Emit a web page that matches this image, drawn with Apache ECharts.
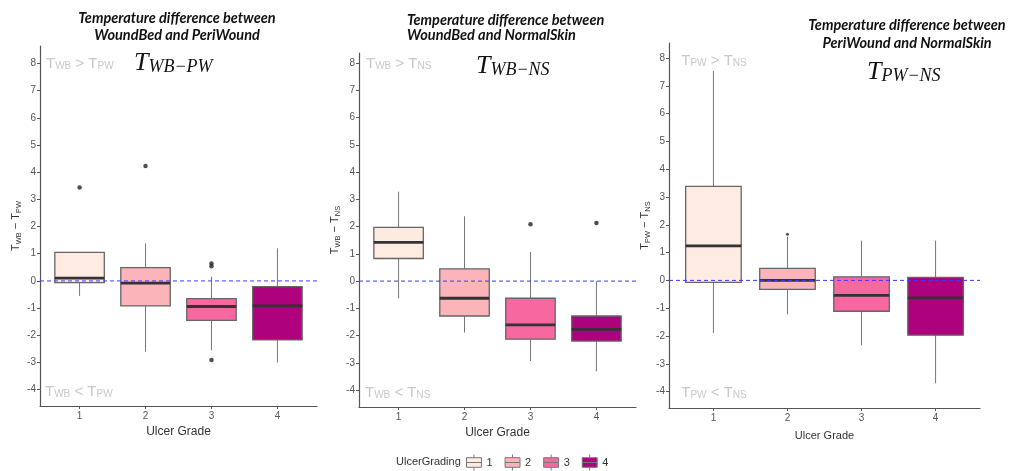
<!DOCTYPE html>
<html>
<head>
<meta charset="utf-8">
<script src="https://cdn.jsdelivr.net/npm/echarts@6/dist/echarts.min.js"></script>
<style>
  html, body { margin: 0; padding: 0; background: #fff; }
  #chart { width: 1015px; height: 471px; }
</style>
</head>
<body>
<div id="chart"></div>
<script>
// ulcer grades and fill colours (RdPu)
const grades = ['1', '2', '3', '4']
const gradeColors = ['#FEEBE2', '#FBB4B9', '#F768A1', '#AE017E']
const yTicks = [-4, -3, -2, -1, 0, 1, 2, 3, 4, 5, 6, 7, 8]
const xRange = [0.4, 4.6]
const zeroLevel = 0

// WoundBed - PeriWound
const wbPwLow = [-0.55, -2.60, -2.55, -3.00]
const wbPwQ1 = [-0.06, -0.92, -1.45, -2.17]
const wbPwMed = [0.10, -0.08, -0.94, -0.92]
const wbPwQ3 = [1.05, 0.49, -0.65, -0.21]
const wbPwHigh = [1.05, 1.38, 0.16, 1.20]
const wbPwOut = [[1, 3.44], [2, 4.23], [3, 0.64], [3, 0.54], [3, -2.91]]

// WoundBed - NormalSkin
const wbNsLow = [-0.63, -1.89, -2.93, -3.31]
const wbNsQ1 = [0.83, -1.28, -2.13, -2.20]
const wbNsMed = [1.42, -0.63, -1.61, -1.77]
const wbNsQ3 = [1.97, 0.45, -0.63, -1.28]
const wbNsHigh = [3.28, 2.38, 1.07, 0.00]
const wbNsOut = [[3, 2.09], [4, 2.13]]

// PeriWound - NormalSkin
const pwNsLow = [-1.89, -1.22, -2.34, -3.70]
const pwNsQ1 = [-0.07, -0.32, -1.11, -1.97]
const pwNsMed = [1.24, 0.00, -0.54, -0.63]
const pwNsQ3 = [3.38, 0.43, 0.13, 0.11]
const pwNsHigh = [7.53, 1.57, 1.43, 1.43]
const pwNsOut = [[2, 1.66]]

const panels = [
  { low: wbPwLow, q1: wbPwQ1, med: wbPwMed, q3: wbPwQ3, high: wbPwHigh, out: wbPwOut, a: 'WB', b: 'PW' },
  { low: wbNsLow, q1: wbNsQ1, med: wbNsMed, q3: wbNsQ3, high: wbNsHigh, out: wbNsOut, a: 'WB', b: 'NS' },
  { low: pwNsLow, q1: pwNsQ1, med: pwNsMed, q3: pwNsQ3, high: pwNsHigh, out: pwNsOut, a: 'PW', b: 'NS' },
]

const grids = [
  { left: 40, top: 46, width: 277, height: 360 },
  { left: 359, top: 53, width: 277, height: 354 },
  { left: 669, top: 43, width: 311, height: 365 },
]
const yRanges = [[-4.6, 8.64], [-4.62, 8.37], [-4.59, 8.54]]
const nameGaps = [17, 14, 11]

const axisGrey = '#555'
const zeroBlue = '#3a3aff'
const sansFont = 'Liberation Sans, Arial, sans-serif'

function renderBox(params, api) {
  const x = api.value(0)
  const low = api.coord([x, api.value(1)])
  const q1 = api.coord([x, api.value(2)])
  const med = api.coord([x, api.value(3)])
  const q3 = api.coord([x, api.value(4)])
  const high = api.coord([x, api.value(5)])
  const half = api.size([0.75, 0])[0] / 2
  const fill = api.visual('color')
  return {
    type: 'group',
    children: [
      { type: 'line', shape: { x1: low[0], y1: low[1], x2: q1[0], y2: q1[1] }, style: { stroke: '#777', lineWidth: 1 } },
      { type: 'line', shape: { x1: q3[0], y1: q3[1], x2: high[0], y2: high[1] }, style: { stroke: '#777', lineWidth: 1 } },
      { type: 'rect', shape: { x: q3[0] - half, y: q3[1], width: half * 2, height: q1[1] - q3[1] }, style: { fill, stroke: '#666', lineWidth: 1.3 } },
      { type: 'line', shape: { x1: med[0] - half, y1: med[1], x2: med[0] + half, y2: med[1] }, style: { stroke: '#333', lineWidth: 2.8 } },
    ],
  }
}

const series = []
panels.forEach((p, pi) => {
  grades.forEach((g, gi) => {
    series.push({
      type: 'custom',
      name: g,
      xAxisIndex: pi,
      yAxisIndex: pi,
      itemStyle: { color: gradeColors[gi] },
      renderItem: renderBox,
      encode: { x: 0, y: [1, 2, 3, 4, 5] },
      data: [[gi + 1, p.low[gi], p.q1[gi], p.med[gi], p.q3[gi], p.high[gi]]],
      z: 2,
    })
  })
  series.push({
    type: 'scatter',
    name: 'outliers',
    xAxisIndex: pi,
    yAxisIndex: pi,
    symbolSize: pi === 2 ? 3 : 4.5,
    itemStyle: { color: '#222' },
    data: p.out,
    z: 3,
  })
  // dashed reference line at zero, across the whole panel
  series.push({
    type: 'line',
    name: 'zero',
    xAxisIndex: pi,
    yAxisIndex: pi,
    data: xRange.map((x) => [x, zeroLevel]),
    showSymbol: false,
    symbol: 'none',
    silent: true,
    z: 4,
    itemStyle: { color: zeroBlue },
    lineStyle: { color: zeroBlue, type: [4, 3], width: 1 },
  })
})

function axisName(a, b) {
  return {
    text: `{t|T}{s|${a}}{t| − T}{s|${b}}`,
    rich: {
      t: { fontSize: 11, color: '#333', fontFamily: sansFont, lineHeight: 14 },
      s: { fontSize: 7.5, color: '#333', fontFamily: sansFont, verticalAlign: 'bottom', lineHeight: 14, padding: [4, 0, 0, 0] },
    },
  }
}

const xAxis = grids.map((_, i) => ({
  type: 'value',
  gridIndex: i,
  min: xRange[0],
  max: xRange[1],
  name: 'Ulcer Grade',
  nameLocation: 'middle',
  nameGap: i === 2 ? 22 : 19,
  nameTextStyle: { fontSize: i === 2 ? 11 : 12, color: '#333', fontFamily: sansFont },
  axisLine: { show: true, onZero: false, lineStyle: { color: axisGrey, width: 1.2 } },
  axisTick: { show: true, length: 3, customValues: [1, 2, 3, 4], lineStyle: { color: axisGrey } },
  axisLabel: { customValues: [1, 2, 3, 4], fontSize: 10, color: '#555', margin: 5, fontFamily: sansFont },
  splitLine: { show: false },
}))

const yAxis = grids.map((_, i) => {
  const nm = axisName(panels[i].a, panels[i].b)
  return {
    type: 'value',
    gridIndex: i,
    min: yRanges[i][0],
    max: yRanges[i][1],
    name: nm.text,
    nameLocation: 'middle',
    nameGap: nameGaps[i],
    nameTextStyle: { rich: nm.rich },
    axisLine: { show: true, onZero: false, lineStyle: { color: axisGrey, width: 1.2 } },
    axisTick: { show: true, length: 3, customValues: yTicks, lineStyle: { color: axisGrey } },
    axisLabel: { customValues: yTicks, fontSize: 10, color: '#555', margin: 4, fontFamily: sansFont },
    splitLine: { show: false },
  }
})

const titleFont = 'italic bold 14.5px Lato, "Open Sans", sans-serif'
const mathRich = {
  T: { fontSize: 26, fontStyle: 'italic', fontFamily: 'Liberation Serif, serif', fill: '#111' },
  s: { fontSize: 18, fontStyle: 'italic', fontFamily: 'Liberation Serif, serif', fill: '#111', verticalAlign: 'bottom', padding: [7, 0, 0, 0] },
}
const relRich = {
  t: { fontSize: 15, fontFamily: sansFont, fill: '#c8c8c8' },
  s: { fontSize: 10, fontFamily: sansFont, fill: '#c8c8c8', verticalAlign: 'bottom', padding: [4, 0, 0, 0] },
}

const graphic = [
  { type: 'text', style: { text: 'Temperature difference between\nWoundBed and PeriWound', x: 177, y: 27, align: 'center', verticalAlign: 'middle', font: titleFont, lineHeight: 17, fill: '#111' } },
  { type: 'text', style: { text: 'Temperature difference between\nWoundBed and NormalSkin', x: 407, y: 28, align: 'left', verticalAlign: 'middle', font: titleFont, lineHeight: 15, fill: '#111' } },
  { type: 'text', style: { text: 'Temperature difference between\nPeriWound and NormalSkin', x: 907, y: 34, align: 'center', verticalAlign: 'middle', font: titleFont, lineHeight: 18, fill: '#111' } },
  { type: 'text', style: { text: '{T|T}{s|WB−PW}', x: 134, y: 63, align: 'left', verticalAlign: 'middle', rich: mathRich } },
  { type: 'text', style: { text: '{T|T}{s|WB−NS}', x: 476, y: 66, align: 'left', verticalAlign: 'middle', rich: mathRich } },
  { type: 'text', style: { text: '{T|T}{s|PW−NS}', x: 867, y: 72, align: 'left', verticalAlign: 'middle', rich: mathRich } },
  { type: 'text', style: { text: '{t|T}{s|WB}{t| > T}{s|PW}', x: 46, y: 64, align: 'left', verticalAlign: 'middle', rich: relRich } },
  { type: 'text', style: { text: '{t|T}{s|WB}{t| < T}{s|PW}', x: 45, y: 392, align: 'left', verticalAlign: 'middle', rich: relRich } },
  { type: 'text', style: { text: '{t|T}{s|WB}{t| > T}{s|NS}', x: 366, y: 64, align: 'left', verticalAlign: 'middle', rich: relRich } },
  { type: 'text', style: { text: '{t|T}{s|WB}{t| < T}{s|NS}', x: 365, y: 393, align: 'left', verticalAlign: 'middle', rich: relRich } },
  { type: 'text', style: { text: '{t|T}{s|PW}{t| > T}{s|NS}', x: 714, y: 61, align: 'center', verticalAlign: 'middle', rich: relRich } },
  { type: 'text', style: { text: '{t|T}{s|PW}{t| < T}{s|NS}', x: 714, y: 393, align: 'center', verticalAlign: 'middle', rich: relRich } },
  { type: 'text', style: { text: 'UlcerGrading', x: 396, y: 462, align: 'left', verticalAlign: 'middle', font: '11px ' + sansFont, fill: '#333' } },
]

const chart = echarts.init(document.getElementById('chart'), null, { renderer: 'canvas' })
chart.setOption({
  animation: false,
  backgroundColor: '#fff',
  grid: grids,
  xAxis,
  yAxis,
  legend: {
    data: grades,
    left: 466,
    top: 454,
    padding: 0,
    orient: 'horizontal',
    itemWidth: 15,
    itemHeight: 16,
    itemGap: 12,
    icon: 'path://M8,0 L8,3 M1,3 L15,3 L15,12 L1,12 Z M1,7.5 L15,7.5 M8,12 L8,15',
    itemStyle: { borderColor: '#777', borderWidth: 1 },
    textStyle: { fontSize: 11, color: '#333', fontFamily: sansFont },
    selectedMode: false,
  },
  graphic,
  series,
})
</script>
</body>
</html>
